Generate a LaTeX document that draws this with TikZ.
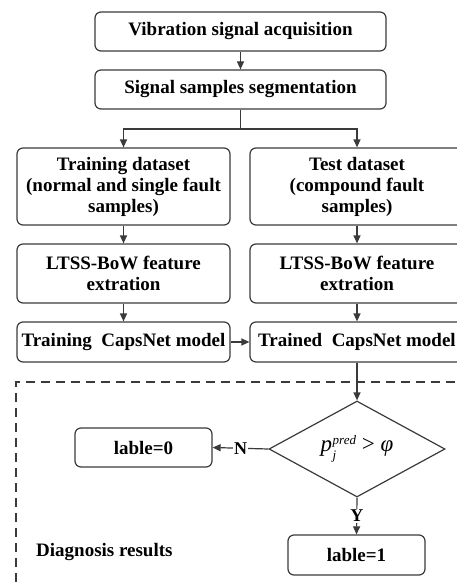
\documentclass[tikz,border=0pt]{standalone}
\usepackage{fontspec}
\setmainfont{Liberation Serif}
\usetikzlibrary{arrows.meta,shapes.geometric}
\definecolor{ln}{HTML}{3A3A3A}
\tikzset{
  box/.style={draw=ln, line width=1.2pt, rounded corners=6pt, align=center, inner sep=0pt,
    font=\fontsize{19}{21}\selectfont\bfseries, text=black},
  arr/.style={draw=ln, line width=1.2pt, -{Triangle[length=8pt,width=7pt]}},
  ln/.style={draw=ln, line width=1.2pt},
  lbl/.style={fill=white, inner sep=1pt, font=\fontsize{18}{20}\selectfont\bfseries}
}
\begin{document}
\begin{tikzpicture}[x=1pt,y=1pt]
\useasboundingbox (0,0) rectangle (457,-583);
\node[box, minimum width=291, minimum height=39] (acq) at (240.5,-31.5) {Vibration signal acquisition};
\node[box, minimum width=291, minimum height=39] (seg) at (240.5,-89.5) {Signal samples segmentation};
\node[box, minimum width=213, minimum height=77] (trd) at (123.5,-186.5) {Training dataset\\(normal and single fault\\samples)};
\node[box, minimum width=214, minimum height=77] (ted) at (357,-186.5) {Test dataset\\(compound fault\\samples)};
\node[box, minimum width=213, minimum height=59] (lf1) at (123.5,-273.5) {LTSS-BoW feature\\extration};
\node[box, minimum width=214, minimum height=59] (lf2) at (357,-273.5) {LTSS-BoW feature\\extration};
\node[box, minimum width=213, minimum height=40] (cap1) at (123.5,-342) {Training\ \ CapsNet model};
\node[box, minimum width=214, minimum height=40] (cap2) at (357,-342) {Trained\ \ CapsNet model};
\draw[ln, dashed, dash pattern=on 9pt off 6pt] (470,-382) -- (16,-382) -- (16,-600);
\node[draw=ln, line width=1.2pt, diamond, aspect=1.83, minimum width=176, minimum height=96, inner sep=0pt, font=\fontsize{23}{25}\selectfont] (dec) at (357,-449)
  {\textit{p}\kern0.5pt\raisebox{-1pt}{\fontsize{13}{12}\selectfont\begin{tabular}[c]{@{}l@{}}\textit{pred}\\[3pt]\textit{j}\end{tabular}}\ \textgreater\ \textit{φ}};
\node[box, minimum width=137, minimum height=39] (l0) at (143.5,-447.5) {lable=0};
\node[box, minimum width=137, minimum height=40] (l1) at (356.5,-555) {lable=1};
\node[anchor=west, font=\fontsize{19}{21}\selectfont\bfseries, inner sep=0pt] (diag) at (36,-552) {Diagnosis results};
\coordinate (split) at (240.5,-129);
\draw[arr] (acq) -- (seg);
\draw[ln] (seg) -- (split);
\draw[arr] (split) -| (trd.north);
\draw[arr] (split) -| (ted.north);
\draw[arr] (trd) -- (lf1);
\draw[arr] (ted) -- (lf2);
\draw[arr] (lf1) -- (cap1);
\draw[arr] (lf2) -- (cap2);
\draw[arr] (cap1) -- (cap2);
\draw[arr] (cap2) -- (dec.north);
\draw[arr] (dec.west) -- node[lbl] {N} (l0.east);
\draw[arr] (dec.south) -- node[lbl] {Y} (l1.north);
\end{tikzpicture}
\end{document}
